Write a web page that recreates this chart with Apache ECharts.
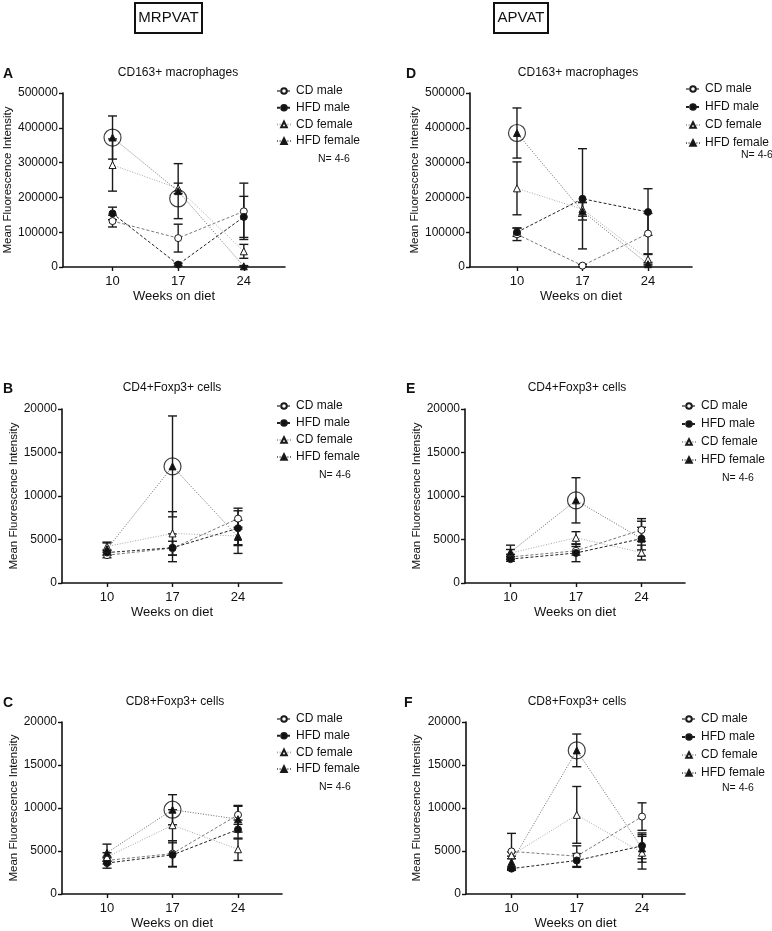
<!DOCTYPE html>
<html>
<head>
<meta charset="utf-8">
<script src="https://cdn.jsdelivr.net/npm/echarts@6/dist/echarts.min.js"></script>
<style>
html, body { margin: 0; padding: 0; background: #fff; }
#chart { width: 772px; height: 931px; }
</style>
</head>
<body>
<div id="chart"></div>
<script>
// weeks on diet (x values) and group names
var weeks = [10, 17, 24];
var groups = ['CD male', 'HFD male', 'CD female', 'HFD female'];

// mean values per group, rows in the order of groups
var meanA = [[132000, 83000, 160000], [154000, 7000, 144000], [293000, 226000, 45000], [372000, 218000, 2000]];
var errA  = [[17000, 40000, 81000], [18000, 4000, 59000], [75000, 15000, 20000], [62000, 79000, 2000]];
var meanB = [[3200, 4000, 7400], [3500, 4050, 6300], [4200, 5700, 5400], [3900, 13400, 5300]];
var errB  = [[300, 800, 1200], [300, 1600, 2000], [500, 2500, 1000], [700, 5800, 1900]];
var meanC = [[3900, 4700, 9200], [3600, 4550, 7500], [4300, 8000, 5200], [4800, 9800, 8700]];
var errC  = [[400, 1500, 1100], [600, 1400, 1100], [500, 1800, 1300], [1000, 1750, 1500]];
var meanD = [[94000, 4000, 96000], [100000, 196000, 158000], [226000, 166000, 22000], [385000, 160000, 8000]];
var errD  = [[18000, 3000, 58000], [12000, 144000, 67000], [76000, 20000, 14000], [72000, 25000, 5000]];
var meanE = [[3000, 3700, 6100], [2750, 3450, 5100], [3450, 5200, 3500], [3550, 9500, 5100]];
var errE  = [[300, 500, 1300], [250, 1000, 2000], [400, 700, 850], [800, 2600, 1300]];
var meanF = [[4950, 4400, 9000], [2950, 3900, 5600], [4500, 9200, 4800], [3700, 16700, 5300]];
var errF  = [[2100, 1200, 1600], [200, 800, 1500], [400, 3300, 1900], [700, 1900, 1600]];

// circled points
var ringA = [[10, 372000], [17, 197000]];
var ringB = [[17, 13400]];
var ringC = [[17, 9800]];
var ringD = [[10, 385000]];
var ringE = [[17, 9500]];
var ringF = [[17, 16700]];

var FONT = '"Liberation Sans", Arial, sans-serif';
var INK = '#111';

// group styles
var symbols = ['circle', 'circle', 'triangle', 'triangle'];
var fills = ['#fff', '#111', '#fff', '#111'];
var lineColors = ['#7a7a7a', '#222', '#a8a8a8', '#6a6a6a'];
var lineTypes = [[3, 2], [3, 2], [1, 1.6], [1, 1.6]];

// panel layout
var panels = [
	{ letter: 'A', title: 'CD163+ macrophages', mean: meanA, err: errA, ring: ringA,
	  left: 63, width: 222, top: 93, height: 174, xMin: 4.72, xMax: 28.39, yMax: 500000, yStep: 100000,
	  nameGap: 42, titleX: 178, titleY: 73, letterX: 3, legendLeft: 276, legendTop: 85, legendGap: 4.7, nX: 318, nY: 159 },
	{ letter: 'B', title: 'CD4+Foxp3+ cells', mean: meanB, err: errB, ring: ringB,
	  left: 62, width: 220, top: 409, height: 174, xMin: 5.19, xMax: 28.7, yMax: 20000, yStep: 5000,
	  nameGap: 42, titleX: 172, titleY: 388, letterX: 3, legendLeft: 276, legendTop: 400, legendGap: 5, nX: 319, nY: 475 },
	{ letter: 'C', title: 'CD8+Foxp3+ cells', mean: meanC, err: errC, ring: ringC,
	  left: 62, width: 220, top: 722, height: 174.5, xMin: 5.19, xMax: 28.7, yMax: 20000, yStep: 5000,
	  nameGap: 42, titleX: 175, titleY: 702, letterX: 3, legendLeft: 276, legendTop: 713, legendGap: 4.7, nX: 319, nY: 787 },
	{ letter: 'D', title: 'CD163+ macrophages', mean: meanD, err: errD, ring: ringD,
	  left: 470, width: 222, top: 93, height: 174, xMin: 4.98, xMax: 28.7, yMax: 500000, yStep: 100000,
	  nameGap: 46, titleX: 578, titleY: 73, letterX: 406, legendLeft: 685, legendTop: 83, legendGap: 6, nX: 741, nY: 155 },
	{ letter: 'E', title: 'CD4+Foxp3+ cells', mean: meanE, err: errE, ring: ringE,
	  left: 465, width: 220, top: 409, height: 174, xMin: 5.14, xMax: 28.65, yMax: 20000, yStep: 5000,
	  nameGap: 42, titleX: 577, titleY: 388, letterX: 406, legendLeft: 681, legendTop: 400, legendGap: 6, nX: 722, nY: 478 },
	{ letter: 'F', title: 'CD8+Foxp3+ cells', mean: meanF, err: errF, ring: ringF,
	  left: 466, width: 219, top: 722, height: 174.5, xMin: 5.12, xMax: 28.61, yMax: 20000, yStep: 5000,
	  nameGap: 43, titleX: 577, titleY: 702, letterX: 404, legendLeft: 681, legendTop: 713, legendGap: 6, nX: 722, nY: 788 }
];

var grids = [], xAxes = [], yAxes = [], series = [], legends = [], graphics = [];

// error bars drawn as custom series
function errorSeries(k, mean, err) {
	var data = [];
	mean.forEach(function(row, g) {
		row.forEach(function(v, i) {
			data.push([weeks[i], Math.max(0, v - err[g][i]), v + err[g][i]]);
		});
	});
	return {
		type: 'custom', xAxisIndex: k, yAxisIndex: k, z: 2, silent: true,
		encode: { x: 0, y: [1, 2] },
		renderItem: function(params, api) {
			var lo = api.coord([api.value(0), api.value(1)]);
			var hi = api.coord([api.value(0), api.value(2)]);
			var w = 4.5;
			var st = { stroke: '#1a1a1a', lineWidth: 1.4 };
			return { type: 'group', children: [
				{ type: 'line', shape: { x1: hi[0], y1: hi[1], x2: lo[0], y2: lo[1] }, style: st },
				{ type: 'line', shape: { x1: hi[0] - w, y1: hi[1], x2: hi[0] + w, y2: hi[1] }, style: st },
				{ type: 'line', shape: { x1: lo[0] - w, y1: lo[1], x2: lo[0] + w, y2: lo[1] }, style: st }
			] };
		},
		data: data
	};
}

panels.forEach(function(p, k) {
	grids.push({ left: p.left, top: p.top, width: p.width, height: p.height });
	xAxes.push({
		type: 'value', gridIndex: k, min: p.xMin, max: p.xMax,
		axisLine: { onZero: false, lineStyle: { color: INK, width: 1.6 } },
		axisTick: { customValues: weeks, length: 4, lineStyle: { color: INK, width: 1.4 } },
		axisLabel: { customValues: weeks, fontSize: 13, color: INK, fontFamily: FONT, margin: 8 },
		splitLine: { show: false },
		name: 'Weeks on diet', nameLocation: 'middle', nameGap: 23,
		nameTextStyle: { fontSize: 13, color: INK, fontFamily: FONT }
	});
	yAxes.push({
		type: 'value', gridIndex: k, min: 0, max: p.yMax, interval: p.yStep,
		axisLine: { show: true, onZero: false, lineStyle: { color: INK, width: 1.6 } },
		axisTick: { show: true, length: 4, lineStyle: { color: INK, width: 1.4 } },
		axisLabel: { fontSize: 12, color: INK, fontFamily: FONT, margin: 5,
			formatter: function(v) { return String(v); } },
		splitLine: { show: false },
		name: 'Mean Fluorescence Intensity', nameLocation: 'middle', nameGap: p.nameGap,
		nameTextStyle: { fontSize: 11.5, color: INK, fontFamily: FONT }
	});
	series.push(errorSeries(k, p.mean, p.err));
	groups.forEach(function(name, g) {
		series.push({
			type: 'line', name: name, xAxisIndex: k, yAxisIndex: k, z: 3, silent: true,
			data: weeks.map(function(w, i) { return [w, p.mean[g][i]]; }),
			symbol: symbols[g], symbolSize: 7,
			itemStyle: { color: fills[g], borderColor: '#1a1a1a', borderWidth: 1 },
			lineStyle: { color: lineColors[g], type: lineTypes[g], width: 1 }
		});
	});
	series.push({
		type: 'scatter', name: 'ring' + p.letter, xAxisIndex: k, yAxisIndex: k, z: 4, silent: true,
		data: p.ring, symbol: 'circle', symbolSize: 17,
		itemStyle: { color: 'rgba(0,0,0,0)', borderColor: INK, borderWidth: 1.2 }
	});
	legends.push({
		orient: 'vertical', left: p.legendLeft, top: p.legendTop, padding: 0, itemWidth: 14, itemHeight: 7,
		itemGap: p.legendGap, data: groups, selectedMode: false,
		textStyle: { fontSize: 12, color: INK, fontFamily: FONT }
	});
	graphics.push({ type: 'text', x: p.titleX, y: p.titleY,
		style: { text: p.title, font: '12px ' + FONT, fill: INK, align: 'center', verticalAlign: 'middle' } });
	graphics.push({ type: 'text', x: p.letterX, y: p.titleY + 1,
		style: { text: p.letter, font: 'bold 14px ' + FONT, fill: INK, align: 'left', verticalAlign: 'middle' } });
	graphics.push({ type: 'text', x: p.nX, y: p.nY,
		style: { text: 'N= 4-6', font: '10.5px ' + FONT, fill: INK, align: 'left', verticalAlign: 'middle' } });
});

// boxed column headers
graphics.push({ type: 'rect', shape: { x: 135, y: 3, width: 67, height: 30 },
	style: { fill: 'none', stroke: INK, lineWidth: 2 } });
graphics.push({ type: 'text', x: 168.5, y: 18,
	style: { text: 'MRPVAT', font: '15px ' + FONT, fill: INK, align: 'center', verticalAlign: 'middle' } });
graphics.push({ type: 'rect', shape: { x: 494, y: 3, width: 54, height: 30 },
	style: { fill: 'none', stroke: INK, lineWidth: 2 } });
graphics.push({ type: 'text', x: 521, y: 18,
	style: { text: 'APVAT', font: '15px ' + FONT, fill: INK, align: 'center', verticalAlign: 'middle' } });

var myChart = echarts.init(document.getElementById('chart'));
myChart.setOption({
	animation: false,
	backgroundColor: '#fff',
	grid: grids,
	xAxis: xAxes,
	yAxis: yAxes,
	legend: legends,
	graphic: graphics,
	series: series
});
</script>
</body>
</html>
